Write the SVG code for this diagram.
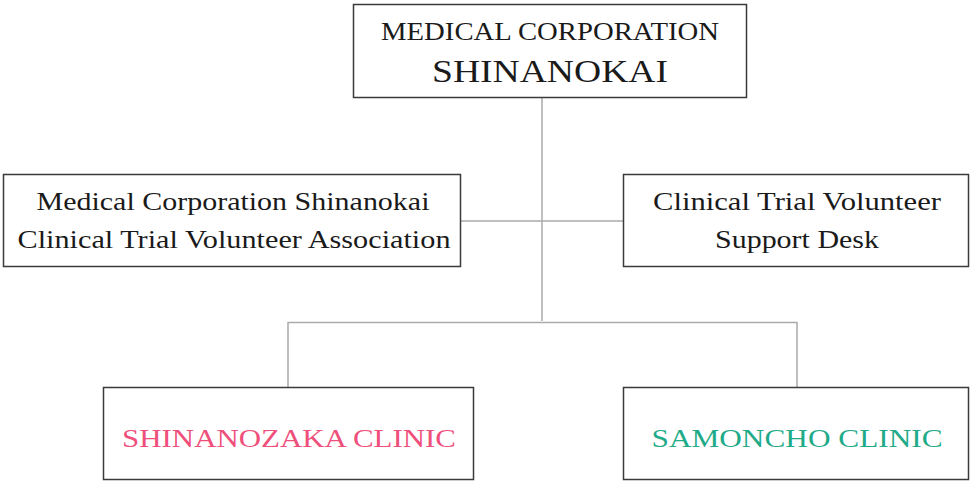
<svg xmlns="http://www.w3.org/2000/svg" width="971" height="490" viewBox="0 0 971 490">
<style>
.box{fill:#fff;stroke:#3a3a3a;stroke-width:1.5}
.ln{fill:none;stroke:#aaaaaa;stroke-width:1.5}
text{font-family:"Liberation Serif","DejaVu Serif",serif;fill:#1a1a1a;text-anchor:middle}
.t{font-size:25px}
.pink{fill:#ef4f7b}
.teal{fill:#1fab89}
</style>
<rect width="971" height="490" fill="#fff"/>
<g id="connectors">
<path class="ln" d="M542 97V321"/>
<path class="ln" d="M461 221H623"/>
<path class="ln" d="M288 387V322.5H797V387"/>
</g>
<g id="top">
<rect class="box" x="353.5" y="4.5" width="393" height="93"/>
<text x="550" y="40" font-size="25" textLength="338" lengthAdjust="spacingAndGlyphs">MEDICAL CORPORATION</text>
<text x="550" y="82" font-size="31" textLength="236" lengthAdjust="spacingAndGlyphs">SHINANOKAI</text>
</g>
<g id="association">
<rect class="box" x="3.5" y="174.5" width="457" height="92"/>
<text class="t" x="233" y="210" textLength="393" lengthAdjust="spacingAndGlyphs">Medical Corporation Shinanokai</text>
<text class="t" x="234" y="248" textLength="433" lengthAdjust="spacingAndGlyphs">Clinical Trial Volunteer Association</text>
</g>
<g id="support">
<rect class="box" x="623.5" y="174.5" width="345" height="92"/>
<text class="t" x="797" y="210" textLength="288" lengthAdjust="spacingAndGlyphs">Clinical Trial Volunteer</text>
<text class="t" x="797" y="248" textLength="164" lengthAdjust="spacingAndGlyphs">Support Desk</text>
</g>
<g id="shinanozaka">
<rect class="box" x="103.5" y="387.5" width="370" height="92"/>
<text class="t pink" x="289" y="447" textLength="334" lengthAdjust="spacingAndGlyphs">SHINANOZAKA CLINIC</text>
</g>
<g id="samoncho">
<rect class="box" x="623.5" y="387.5" width="345" height="92"/>
<text class="t teal" x="797" y="447" textLength="291" lengthAdjust="spacingAndGlyphs">SAMONCHO CLINIC</text>
</g>
</svg>
